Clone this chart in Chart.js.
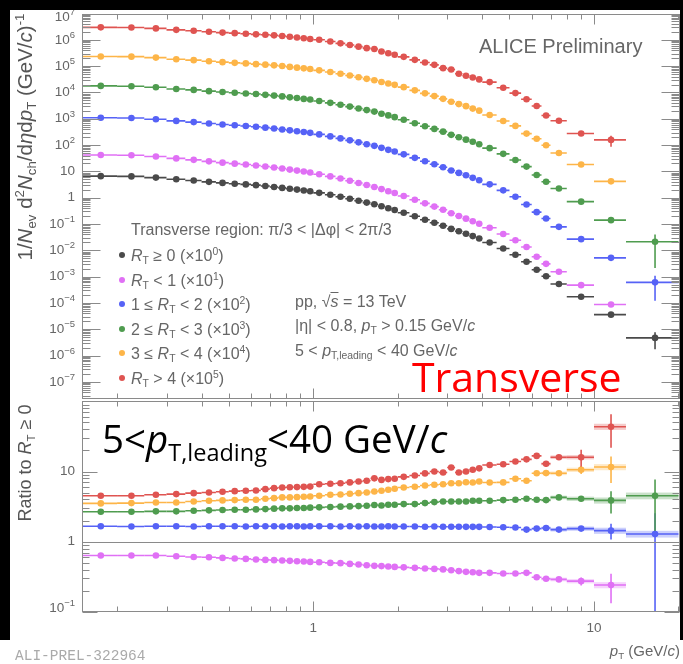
<!DOCTYPE html>
<html>
<head>
<meta charset="utf-8">
<title>Transverse region spectra vs RT</title>
<script src="https://cdn.jsdelivr.net/npm/chart.js@4.4.1/dist/chart.umd.min.js"></script>
<style>
  body { margin: 0; background: #fff; }
  #wrap { position: relative; width: 683px; height: 664px; overflow: hidden; background: #fff;
          font-family: "Liberation Sans", Arial, sans-serif; color: #666; }
  canvas { position: absolute; left: 0; }
  .blk { position: absolute; background: #000; }
  .t { position: absolute; white-space: nowrap; line-height: 1; }
  .t sub { font-size: 65%; vertical-align: -0.32em; line-height: 0; }
  .t sup { font-size: 65%; vertical-align: 0.55em; line-height: 0; }
  .dot { position: absolute; width: 6px; height: 6px; border-radius: 50%; }
  .big { font-family: "Open Sans", sans-serif; }
</style>
</head>
<body>
<div id="wrap">
  <canvas id="spec" width="683" height="402" style="top:0"></canvas>
  <canvas id="ratio" width="683" height="266" style="top:398px"></canvas>

  <div class="blk" style="left:0;top:0;width:683px;height:10px"></div>
  <div class="blk" style="left:0;top:0;width:10px;height:640px"></div>
  <div class="blk" style="left:680px;top:0;width:3px;height:640px"></div>

  <div class="t" id="ytop" style="font-size:20.5px;color:#555;left:25px;top:137px;transform:translate(-50%,-50%) rotate(-90deg)">1/<i>N</i><sub>ev</sub> d<sup>2</sup><i>N</i><sub>ch</sub>/d<i>η</i>d<i>p</i><sub>T</sub> (GeV/<i>c</i>)<sup>-1</sup></div>
  <div class="t" style="font-size:18px;color:#555;left:25px;top:463px;transform:translate(-50%,-50%) rotate(-90deg)">Ratio to <i>R</i><sub>T</sub> ≥ 0</div>

  <div class="t" style="font-size:20px;left:479px;top:36px">ALICE Preliminary</div>

  <div class="t" style="font-size:16px;left:131px;top:221.5px">Transverse region: π/3 &lt; |Δφ| &lt; 2π/3</div>
  <div id="legend"></div>

  <div class="t" style="font-size:16px;left:295px;top:293.5px">pp, √<span style="text-decoration:overline"><i>s</i></span> = 13 TeV</div>
  <div class="t" style="font-size:16px;left:295px;top:318px">|η| &lt; 0.8, <i>p</i><sub>T</sub> &gt; 0.15 GeV/<i>c</i></div>
  <div class="t" style="font-size:16px;left:295px;top:343px">5 &lt; <i>p</i><sub>T,leading</sub> &lt; 40 GeV/<i>c</i></div>

  <div class="t big" style="font-size:41px;color:#ff0000;left:412px;top:355.5px">Transverse</div>
  <div class="t big" style="font-size:38.5px;color:#000;left:102px;top:418.5px">5&lt;<i>p</i><span style="font-size:23.5px;vertical-align:-8px;line-height:0">T,leading</span>&lt;40 GeV/<i>c</i></div>

  <div class="t" style="font-size:15px;right:3px;top:643px"><i>p</i><sub>T</sub> (GeV/<i>c</i>)</div>
  <div class="t" style="font-family:'Liberation Mono',monospace;font-size:14.5px;color:#aaa;left:15px;top:649px">ALI-PREL-322964</div>
</div>

<script>
// pT binning (GeV/c)
const ptEdges = [0.15,0.2,0.25,0.3,0.35,0.4,0.45,0.5,0.55,0.6,0.65,0.7,0.75,0.8,0.85,0.9,0.95,1.0,
  1.1,1.2,1.3,1.4,1.5,1.6,1.7,1.8,1.9,2.0,2.2,2.4,2.6,2.8,3.0,3.2,3.4,3.6,3.8,4.0,
  4.5,5.0,5.5,6.0,6.5,7.0,8.0,10,13,20];
const ptCenters = [0.175,0.225,0.275,0.325,0.375,0.425,0.475,0.525,0.575,0.625,0.675,0.725,0.775,0.825,0.875,0.925,0.975,
  1.05,1.15,1.25,1.35,1.45,1.55,1.65,1.75,1.85,1.95,2.1,2.3,2.5,2.7,2.9,3.1,3.3,3.5,3.7,3.9,
  4.25,4.75,5.25,5.75,6.25,6.75,7.5,9,11.5,16.5];

// spectra, 1/Nev d2N/detadpT, before the legend scale factors
const specRT0 = [6.6,6.45,5.8,5.0,4.5,4.0,3.65,3.4,3.2,3.0, 2.77,2.56,2.36,2.18,2.03,1.88,1.75,1.53,1.29,1.08,
  0.91,0.765,0.652,0.562,0.472,0.397,0.342,0.268,0.197,0.146, 0.112,0.0863,0.0652,0.0528,0.0429,0.0348,0.0282,0.0199,0.0118,0.0068,
  0.0037,0.00183,0.00103,5.25e-4,1.73e-4,3.6e-5,4.7e-6];
const specRT1 = [4.20,4.11,3.69,3.12,2.74,2.41,2.15,1.97,1.82,1.68, 1.53,1.40,1.28,1.17,1.07,0.985,0.905,0.783,0.645,0.536,
  0.440,0.363,0.303,0.255,0.212,0.177,0.150,0.116,0.0837,0.0609, 0.0460,0.0349,0.0257,0.0202,0.0160,0.0128,0.0102,0.00718,0.00418,0.00241,
  0.00134,5.73e-4,3.06e-4,1.53e-4,4.76e-5,8.7e-6,null];
const specRT12 = [10.96,10.71,9.63,8.30,7.47,6.64,6.06,5.64,5.31,4.98, 4.60,4.25,3.92,3.62,3.37,3.12,2.91,2.54,2.14,1.79,
  1.51,1.27,1.08,0.933,0.784,0.659,0.568,0.445,0.327,0.242, 0.186,0.143,0.108,0.0876,0.0712,0.0567,0.0460,0.0322,0.0190,0.0109,
  0.00551,0.00282,0.00162,7.82e-4,2.66e-4,5.18e-5,6.06e-6];
const specRT23 = [17.69,17.29,15.72,13.55,12.47,11.2,10.33,9.72,9.15,8.67, 8.09,7.58,7.06,6.52,6.13,5.68,5.36,4.73,4.02,3.41,
  2.90,2.46,2.13,1.87,1.55,1.34,1.15,0.922,0.678,0.518, 0.411,0.324,0.245,0.198,0.161,0.134,0.108,0.0764,0.0463,0.0270,
  0.0152,0.00727,0.00404,0.00225,7.09e-4,1.40e-4,2.12e-5];
const specRT34 = [23.2,22.9,21.05,18.15,16.88,15.36,14.16,13.33,12.70,11.91, 11.36,10.70,10.10,9.33,8.77,8.23,7.74,6.92,6.02,5.10,
  4.40,3.76,3.29,2.92,2.51,2.18,1.94,1.59,1.20,0.924, 0.726,0.570,0.445,0.360,0.302,0.243,0.203,0.139,0.0826,0.0536,
  0.0273,0.0173,0.00979,0.00497,0.00183,4.18e-4,null];
const specRT4 = [29.8,29.2,27.1,23.9,22.1,20.2,18.8,17.9,17.0,16.1, 15.5,14.8,14.0,13.0,12.2,11.4,10.7,10.1,8.64,7.34,
  6.37,5.51,4.82,4.50,3.59,3.10,2.70,2.25,1.73,1.37, 1.12,0.837,0.743,0.512,0.429,0.369,0.313,0.247,0.150,0.0945,
  0.0551,0.0306,0.0133,0.0084,0.00277,0.00157,null];

// ratio to RT >= 0
const ratioRT1 = [0.637,0.637,0.637,0.623,0.608,0.603,0.589,0.578,0.570,0.560, 0.552,0.547,0.541,0.535,0.529,0.524,0.517,0.512,0.500,0.496,
  0.484,0.475,0.464,0.454,0.450,0.445,0.439,0.432,0.425,0.417, 0.411,0.404,0.394,0.382,0.373,0.369,0.361,0.361,0.354,0.354,
  0.361,0.313,0.297,0.291,0.275,0.242,null];
const ratioRT12 = [1.66,1.65,1.66,1.66,1.65,1.66,1.66,1.66,1.65,1.66, 1.66,1.66,1.65,1.66,1.66,1.65,1.66,1.66,1.66,1.65,
  1.66,1.65,1.66,1.65,1.65,1.66,1.65,1.65,1.65,1.64, 1.65,1.64,1.64,1.64,1.63,1.63,1.63,1.62,1.61,1.60,
  1.49,1.54,1.57,1.49,1.54,1.44,1.29];
const ratioRT23 = [2.68,2.68,2.71,2.71,2.77,2.80,2.83,2.86,2.86,2.89, 2.92,2.96,2.99,2.99,3.02,3.02,3.06,3.09,3.12,3.16,
  3.19,3.22,3.26,3.33,3.29,3.37,3.37,3.44,3.44,3.55, 3.67,3.75,3.75,3.75,3.75,3.84,3.84,3.84,3.92,3.97,
  4.10,3.97,3.92,4.28,4.10,3.88,4.52];
const ratioRT34 = [3.52,3.55,3.63,3.63,3.75,3.84,3.88,3.92,3.97,3.97, 4.10,4.18,4.28,4.28,4.32,4.38,4.42,4.52,4.67,4.72,
  4.83,4.92,5.04,5.20,5.32,5.50,5.68,5.93,6.07,6.33, 6.48,6.60,6.82,6.82,7.05,6.98,7.21,6.98,7.00,7.88,
  7.38,9.46,9.50,9.46,10.6,11.6,null];
const ratioRT4 = [4.52,4.52,4.67,4.77,4.92,5.04,5.15,5.26,5.32,5.38, 5.61,5.80,5.93,5.98,6.00,6.05,6.10,6.60,6.70,6.80,
  7.00,7.20,7.40,8.00,7.60,7.80,7.90,8.40,8.80,9.40, 10.0,9.70,11.4,9.70,10.0,10.6,11.1,12.4,12.7,13.9,
  14.9,16.7,12.9,16.0,16.0,43.5,null];

// relative stat. errors for the last bins (6.75, 7.5, 9, 11.5, 16.5 GeV/c), smaller ones are hidden by markers
const TAIL = 42;
const specErrRT0 = [0.01,0.01,0.03,0.08,0.63];
const specErrRT1 = [0.02,0.03,0.06,0.12,null];
const specErrRT12 = [0.01,0.02,0.05,0.10,0.80];
const specErrRT23 = [0.01,0.02,0.04,0.10,0.90];
const specErrRT34 = [0.01,0.02,0.05,0.12,null];
const specErrRT4 = [0.01,0.02,0.08,0.45,null];
const ratioErrRT1 = [0.03,0.05,0.13,0.45,null];
const ratioErrRT12 = [0.02,0.03,0.06,0.25,0.97];
const ratioErrRT23 = [0.02,0.04,0.08,0.35,0.70];
const ratioErrRT34 = [0.03,0.05,0.13,0.41,null];
const ratioErrRT4 = [0.09,0.05,0.28,0.50,null];
const ratioSys = [0.05,0.06,0.07,0.10,0.11];

// axis ticks
const specTickExp = [-7,-6,-5,-4,-3,-2,-1,0,1,2,3,4,5,6,7];
const ratioTickExp = [-1,0,1];
const xTickLabels = [1,10];

const series = [
  { name: 'R_T >= 0',      color: '#4a4a4a', scale: 1,   spec: specRT0,  specErr: specErrRT0 },
  { name: 'R_T < 1',       color: '#e070f5', scale: 1e1, spec: specRT1,  specErr: specErrRT1,  ratio: ratioRT1,  ratioErr: ratioErrRT1 },
  { name: '1 <= R_T < 2',  color: '#5662f6', scale: 1e2, spec: specRT12, specErr: specErrRT12, ratio: ratioRT12, ratioErr: ratioErrRT12 },
  { name: '2 <= R_T < 3',  color: '#4f9c4f', scale: 1e3, spec: specRT23, specErr: specErrRT23, ratio: ratioRT23, ratioErr: ratioErrRT23 },
  { name: '3 <= R_T < 4',  color: '#fdb548', scale: 1e4, spec: specRT34, specErr: specErrRT34, ratio: ratioRT34, ratioErr: ratioErrRT34 },
  { name: 'R_T > 4',       color: '#df5451', scale: 1e5, spec: specRT4,  specErr: specErrRT4,  ratio: ratioRT4,  ratioErr: ratioErrRT4 }
];
const legendRows = [
  '<i>R</i><sub>T</sub> ≥ 0 (×10<sup>0</sup>)',
  '<i>R</i><sub>T</sub> &lt; 1 (×10<sup>1</sup>)',
  '1 ≤ <i>R</i><sub>T</sub> &lt; 2 (×10<sup>2</sup>)',
  '2 ≤ <i>R</i><sub>T</sub> &lt; 3 (×10<sup>3</sup>)',
  '3 ≤ <i>R</i><sub>T</sub> &lt; 4 (×10<sup>4</sup>)',
  '<i>R</i><sub>T</sub> &gt; 4 (×10<sup>5</sup>)'
];
const legendY = [255, 279.5, 304, 328.5, 353, 377.5];

let legendHtml = '';
series.forEach((s, i) => {
  legendHtml += `<div class="dot" style="background:${s.color};left:119px;top:${legendY[i] - 3}px"></div>`;
  legendHtml += `<div class="t" style="font-size:16px;left:131px;top:${legendY[i] - 7}px">${legendRows[i]}</div>`;
});
document.getElementById('legend').innerHTML = legendHtml;

function toPoints(vals, scale, errs, sys) {
  let pts = [];
  vals.forEach((v, i) => {
    if (v === null) return;
    let e = i >= TAIL ? (errs[i - TAIL] || 0) : 0;
    let sy = sys && i >= TAIL ? sys[i - TAIL] : 0;
    pts = [...pts, { x: ptCenters[i], y: v * scale, bin: i, err: e, sys: sy }];
  });
  return pts;
}

// bin-width bars, stat. error bars and syst. boxes
const errorBars = {
  id: 'errorBars',
  beforeDatasetsDraw(chart) {
    const { ctx, chartArea: a, scales: { x, y } } = chart;
    ctx.save();
    ctx.beginPath();
    ctx.rect(a.left, a.top, a.right - a.left, a.bottom - a.top);
    ctx.clip();
    chart.data.datasets.forEach((ds) => {
      ds.data.forEach((p) => {
        const x0 = x.getPixelForValue(ptEdges[p.bin]);
        const x1 = x.getPixelForValue(ptEdges[p.bin + 1]);
        const yp = y.getPixelForValue(p.y);
        if (p.sys > 0) {
          ctx.globalAlpha = 0.3;
          ctx.fillStyle = ds.backgroundColor;
          const yt = y.getPixelForValue(p.y * (1 + p.sys));
          const yb = y.getPixelForValue(p.y * (1 - p.sys));
          ctx.fillRect(x0, yt, x1 - x0, yb - yt);
          ctx.globalAlpha = 1;
        }
        ctx.strokeStyle = ds.backgroundColor;
        ctx.lineWidth = 1.6;
        ctx.beginPath();
        ctx.moveTo(x0, yp);
        ctx.lineTo(x1, yp);
        if (p.err > 0) {
          const yt = y.getPixelForValue(p.y * (1 + p.err));
          const lo = p.y * (1 - p.err);
          const yb = lo > y.min ? y.getPixelForValue(lo) : a.bottom;
          ctx.moveTo(x.getPixelForValue(p.x), yt);
          ctx.lineTo(x.getPixelForValue(p.x), yb);
        }
        ctx.stroke();
      });
    });
    ctx.restore();
  }
};

function drawPow(ctx, exp, xr, yc) {
  if (exp === 0 || exp === 1) {
    ctx.font = '13.5px "Liberation Sans"';
    ctx.textAlign = 'right';
    ctx.textBaseline = 'middle';
    ctx.fillText(exp === 0 ? '1' : '10', xr, yc);
    return;
  }
  const sup = exp < 0 ? '\u2212' + (-exp) : String(exp);
  ctx.font = '9.5px "Liberation Sans"';
  const w = ctx.measureText(sup).width;
  ctx.textAlign = 'left';
  ctx.textBaseline = 'alphabetic';
  ctx.fillText(sup, xr - w, yc - 2);
  ctx.font = '13.5px "Liberation Sans"';
  ctx.textAlign = 'right';
  ctx.textBaseline = 'middle';
  ctx.fillText('10', xr - w, yc);
}

// ROOT style frame: inward ticks on all four sides, log minor ticks
function makeFrame(cfg) {
  return {
    id: 'frame',
    afterDraw(chart) {
      const { ctx, chartArea: a, scales: { x, y } } = chart;
      ctx.save();
      ctx.strokeStyle = '#8a8a8a';
      ctx.lineWidth = 1;
      const line = (x0, y0, x1, y1) => { ctx.beginPath(); ctx.moveTo(x0, y0); ctx.lineTo(x1, y1); ctx.stroke(); };
      const L = Math.round(a.left) + 0.5, R = Math.round(a.right) - 0.5;
      const T = Math.round(a.top) + 0.5, B = Math.round(a.bottom) - 0.5;
      if (cfg.unity) {
        const yu = Math.round(y.getPixelForValue(1)) + 0.5;
        line(L, yu, R, yu);
      }
      ctx.strokeRect(L, T, R - L, B - T);
      for (let d = -1; d <= 1; d++) {
        for (let m = 1; m <= 9; m++) {
          const v = m * Math.pow(10, d);
          if (v < x.min || v > x.max) continue;
          const px = Math.round(x.getPixelForValue(v)) + 0.5;
          const len = m === 1 ? cfg.xMajor : cfg.xMinor;
          line(px, T, px, T + len);
          line(px, B, px, B - len);
        }
      }
      const d0 = Math.floor(Math.log10(y.min)), d1 = Math.ceil(Math.log10(y.max));
      for (let d = d0; d <= d1; d++) {
        for (let m = 1; m <= 9; m++) {
          const v = m * Math.pow(10, d);
          if (v < y.min || v > y.max) continue;
          const py = Math.round(y.getPixelForValue(v)) + 0.5;
          const len = m === 1 ? cfg.yMajor : cfg.yMinor;
          line(L, py, L + len, py);
          line(R, py, R - len, py);
        }
      }
      ctx.fillStyle = '#666';
      cfg.yExp.forEach((k) => {
        let yc = y.getPixelForValue(Math.pow(10, k));
        yc = Math.min(Math.max(yc, cfg.labelMin), cfg.labelMax);
        drawPow(ctx, k, 75, yc);
      });
      if (cfg.xLabels) {
        ctx.font = '13.5px "Liberation Sans"';
        ctx.textAlign = 'center';
        ctx.textBaseline = 'middle';
        cfg.xLabels.forEach((v) => ctx.fillText(String(v), x.getPixelForValue(v), a.bottom + 16));
      }
      ctx.restore();
    }
  };
}

const common = {
  responsive: false,
  animation: false,
  devicePixelRatio: 1,
  events: [],
  plugins: { legend: { display: false }, tooltip: { enabled: false } },
  elements: { point: { radius: 3.3, borderWidth: 0, hoverRadius: 3.3 } }
};

new Chart(document.getElementById('spec'), {
  type: 'scatter',
  data: {
    datasets: series.map((s) => ({
      label: s.name,
      data: toPoints(s.spec, s.scale, s.specErr, null),
      backgroundColor: s.color,
      borderColor: s.color
    }))
  },
  options: {
    ...common,
    layout: { padding: { left: 82, right: 3, top: 13.5, bottom: 2 } },
    scales: {
      x: { type: 'logarithmic', min: 0.15, max: 20.2, display: false },
      y: { type: 'logarithmic', min: 2.3e-8, max: 1e7, display: false }
    }
  },
  plugins: [errorBars, makeFrame({ xMajor: 10, xMinor: 5, yMajor: 18, yMinor: 8, yExp: specTickExp, labelMin: 17, labelMax: 400 })]
});

new Chart(document.getElementById('ratio'), {
  type: 'scatter',
  data: {
    datasets: series.filter((s) => s.ratio).map((s) => ({
      label: s.name,
      data: toPoints(s.ratio, 1, s.ratioErr, ratioSys),
      backgroundColor: s.color,
      borderColor: s.color
    }))
  },
  options: {
    ...common,
    layout: { padding: { left: 82, right: 3, top: 2, bottom: 52 } },
    scales: {
      x: { type: 'logarithmic', min: 0.15, max: 20.2, display: false },
      y: { type: 'logarithmic', min: 0.1, max: 100, display: false }
    }
  },
  plugins: [errorBars, makeFrame({ xMajor: 10, xMinor: 5, yMajor: 15, yMinor: 7, yExp: ratioTickExp, labelMin: 0, labelMax: 210, unity: true, xLabels: xTickLabels })]
});
</script>
</body>
</html>
